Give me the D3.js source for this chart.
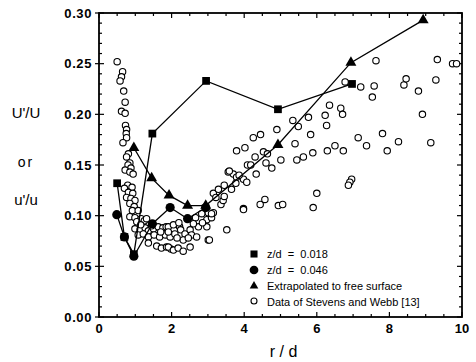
<!DOCTYPE html>
<html>
<head>
<meta charset="utf-8">
<script src="https://cdn.jsdelivr.net/npm/d3@7"></script>
<style>
  body { margin: 0; background: #fff; }
  svg { font-family: "Liberation Sans", Arial, sans-serif; }
</style>
</head>
<body>
<div id="chart"></div>
<script>
// z/d = 0.018 (filled squares)
const sqR = [0.50, 0.70, 0.96, 1.47, 2.95, 4.93, 6.97];
const sqU = [0.132, 0.079, 0.062, 0.181, 0.233, 0.205, 0.230];

// z/d = 0.046 (filled circles)
const ciR = [0.49, 0.70, 0.96, 1.47, 1.96, 2.44, 2.94];
const ciU = [0.101, 0.079, 0.060, 0.092, 0.108, 0.097, 0.108];

// extrapolated to free surface (filled triangles)
const trR = [0.96, 1.45, 1.93, 2.44, 2.94, 4.93, 6.94, 8.93];
const trU = [0.167, 0.137, 0.120, 0.110, 0.110, 0.170, 0.251, 0.293];

// Data of Stevens and Webb [13] (open circles), [r/d, u'/u]
const stevensWebb = [
  [0.50,0.252],[0.65,0.242],[0.62,0.237],[0.58,0.233],[0.68,0.223],[0.72,0.212],[0.62,0.203],[0.72,0.201],
  [0.73,0.189],[0.76,0.185],[0.75,0.181],[0.76,0.177],[0.66,0.172],[0.81,0.161],[0.76,0.158],[0.85,0.152],
  [0.80,0.150],[0.88,0.147],[0.72,0.145],[0.85,0.143],[0.94,0.141],[0.79,0.130],[0.91,0.128],[0.70,0.127],
  [0.81,0.123],[0.93,0.122],[0.76,0.118],[0.88,0.117],[0.99,0.115],[0.85,0.112],[0.97,0.109],[0.92,0.105],
  [1.08,0.105],[0.85,0.099],[0.99,0.098],[1.16,0.097],[1.04,0.094],[1.25,0.095],
  [0.99,0.087],[1.13,0.086],[1.27,0.088],[1.36,0.085],[1.50,0.087],[1.63,0.089],[1.76,0.088],[1.85,0.089],
  [1.08,0.081],[1.22,0.082],[1.36,0.079],[1.52,0.081],[1.67,0.079],[1.83,0.081],[1.96,0.079],[1.31,0.097],
  [1.36,0.073],[1.59,0.070],[1.72,0.068],[1.86,0.069],[1.98,0.067],[1.91,0.089],[2.05,0.091],[2.22,0.089],
  [1.91,0.084],[2.09,0.082],[2.25,0.086],[2.37,0.082],[2.51,0.086],[2.55,0.081],[2.69,0.079],[2.74,0.089],
  [2.66,0.098],[2.97,0.096],[3.10,0.098],[3.15,0.103],[3.01,0.103],[2.97,0.089],[3.01,0.076],[3.52,0.086],
  [1.91,0.069],[2.05,0.066],[2.18,0.068],[2.32,0.065],[2.51,0.069],[2.32,0.076],[2.46,0.078],
  [1.15,0.091],[1.45,0.090],[1.70,0.084],[2.15,0.078],[2.60,0.092],[2.85,0.093],[2.83,0.102],[2.20,0.093],
  [3.15,0.122],[3.29,0.126],[3.36,0.111],[3.42,0.115],[3.45,0.119],[3.65,0.126],[3.56,0.143],[3.70,0.141],
  [3.79,0.138],[3.77,0.132],[3.79,0.164],[3.98,0.107],[3.98,0.136],[3.22,0.118],[3.10,0.102],[3.45,0.130],
  [4.02,0.167],[4.25,0.177],[4.45,0.180],[4.90,0.185],[5.34,0.194],[5.49,0.188],[5.77,0.197],[5.83,0.180],
  [5.40,0.171],[4.30,0.158],[4.53,0.163],[4.64,0.161],[4.09,0.150],[4.18,0.150],[4.60,0.152],[4.76,0.147],
  [5.01,0.155],[5.45,0.155],[5.63,0.158],[5.89,0.162],[4.33,0.141],[3.59,0.144],[3.86,0.140],[4.07,0.133],
  [6.23,0.199],[6.27,0.189],[6.35,0.209],[6.29,0.164],[6.50,0.169],[6.73,0.164],[6.66,0.206],[6.71,0.200],
  [6.78,0.232],[7.21,0.227],[7.58,0.228],[7.53,0.217],[7.63,0.253],[8.40,0.229],[8.46,0.235],[8.80,0.223],
  [8.91,0.200],[9.28,0.234],[9.32,0.254],[9.74,0.250],[9.85,0.250],[7.14,0.177],[7.37,0.169],[7.81,0.181],
  [7.94,0.164],[8.25,0.173],[9.14,0.172],[6.96,0.136],[6.91,0.133],[6.87,0.130],
  [3.98,0.106],[4.44,0.111],[4.57,0.116],[4.94,0.110],[5.06,0.111],[5.90,0.108],[6.00,0.122],[3.04,0.076]
];

const xTicks = [0, 2, 4, 6, 8, 10];
const yTicks = [0.00, 0.05, 0.10, 0.15, 0.20, 0.25, 0.30];
const legendLabels = ['z/d  =  0.018', 'z/d  =  0.046', 'Extrapolated to free surface', 'Data of Stevens and Webb [13]'];

const width = 476, height = 362;
const margin = { top: 13, right: 14, bottom: 45, left: 99 };

const svg = d3.select('#chart').append('svg')
  .attr('width', width)
  .attr('height', height);

const x = d3.scaleLinear().domain([0, 10]).range([margin.left, width - margin.right]);
const y = d3.scaleLinear().domain([0, 0.30]).range([height - margin.bottom, margin.top]);

const x0 = x(0), x1 = x(10), y0 = y(0), y1 = y(0.30);

// minor / major ticks on all four sides, pointing inward
const xMinor = d3.range(0, 10.01, 0.5);
const yMinor = d3.range(0, 0.3001, 0.01);
const ticks = svg.append('g').attr('stroke', '#000').attr('stroke-width', 1.2);

xMinor.forEach(v => {
  const len = Math.abs(v % 2) < 1e-6 ? 5 : 3;
  ticks.append('line').attr('x1', x(v)).attr('x2', x(v)).attr('y1', y0).attr('y2', y0 - len);
  ticks.append('line').attr('x1', x(v)).attr('x2', x(v)).attr('y1', y1).attr('y2', y1 + len);
});
yMinor.forEach(v => {
  const major = Math.abs(Math.round(v * 100) % 5) === 0;
  const len = major ? 5 : 3;
  ticks.append('line').attr('x1', x0 - (major ? 4 : 0)).attr('x2', x0 + len).attr('y1', y(v)).attr('y2', y(v));
  ticks.append('line').attr('x1', x1).attr('x2', x1 - len).attr('y1', y(v)).attr('y2', y(v));
});

// frame
svg.append('rect')
  .attr('x', x0).attr('y', y1)
  .attr('width', x1 - x0).attr('height', y0 - y1)
  .attr('fill', 'none').attr('stroke', '#000').attr('stroke-width', 1.8);

// tick labels
svg.append('g').selectAll('text')
  .data(xTicks).enter().append('text')
  .attr('x', d => x(d))
  .attr('y', y0 + 16)
  .attr('text-anchor', 'middle')
  .attr('font-size', 13)
  .attr('font-weight', 'bold')
  .text(d => d);

svg.append('g').selectAll('text')
  .data(yTicks).enter().append('text')
  .attr('x', x0 - 7)
  .attr('y', d => y(d))
  .attr('dy', '0.35em')
  .attr('text-anchor', 'end')
  .attr('font-size', 13)
  .attr('font-weight', 'bold')
  .attr('letter-spacing', 0.6)
  .text(d => d.toFixed(2));

// axis labels
svg.append('text').attr('x', 26).attr('y', 118).attr('text-anchor', 'middle').attr('font-size', 15).text("U'/U");
svg.append('text').attr('x', 26).attr('y', 167).attr('text-anchor', 'middle').attr('font-size', 14).attr('letter-spacing', 2).text('or');
svg.append('text').attr('x', 26).attr('y', 205).attr('text-anchor', 'middle').attr('font-size', 15).text("u'/u");
svg.append('text').attr('x', (x0 + x1) / 2 + 3).attr('y', 357).attr('text-anchor', 'middle').attr('font-size', 16).text('r / d');

// open circles
svg.append('g').selectAll('circle')
  .data(stevensWebb).enter().append('circle')
  .attr('cx', d => x(d[0]))
  .attr('cy', d => y(d[1]))
  .attr('r', 3.2)
  .attr('fill', '#fff')
  .attr('stroke', '#000')
  .attr('stroke-width', 1.1);

const line = d3.line().x(d => x(d[0])).y(d => y(d[1]));
const zip = (a, b) => a.map((v, i) => [v, b[i]]);

const sqData = zip(sqR, sqU), ciData = zip(ciR, ciU), trData = zip(trR, trU);

[sqData, ciData, trData].forEach(s => {
  svg.append('path').datum(s)
    .attr('d', line)
    .attr('fill', 'none')
    .attr('stroke', '#000')
    .attr('stroke-width', 1.3);
});

const sym = {
  square: d3.symbol().type(d3.symbolSquare).size(60),
  circle: d3.symbol().type(d3.symbolCircle).size(66),
  triangle: d3.symbol().type(d3.symbolTriangle).size(52)
};

function markers(data, gen) {
  svg.append('g').selectAll('path')
    .data(data).enter().append('path')
    .attr('transform', d => `translate(${x(d[0])},${y(d[1])})`)
    .attr('d', gen)
    .attr('fill', '#000');
}
markers(ciData, sym.circle);
markers(sqData, sym.square);
markers(trData, sym.triangle);

// legend
const lg = svg.append('g');
const lx = 254, ly = [254, 270, 286, 302];
lg.append('path').attr('transform', `translate(${lx},${ly[0]})`).attr('d', d3.symbol().type(d3.symbolSquare).size(50)).attr('fill', '#000');
lg.append('path').attr('transform', `translate(${lx},${ly[1]})`).attr('d', d3.symbol().type(d3.symbolCircle).size(60)).attr('fill', '#000');
lg.append('path').attr('transform', `translate(${lx},${ly[2]})`).attr('d', d3.symbol().type(d3.symbolTriangle).size(32)).attr('fill', '#000');
lg.append('circle').attr('cx', lx).attr('cy', ly[3] - 1).attr('r', 3).attr('fill', '#fff').attr('stroke', '#000').attr('stroke-width', 1.1);

lg.selectAll('text')
  .data(legendLabels).enter().append('text')
  .attr('x', lx + 13)
  .attr('y', (d, i) => ly[i])
  .attr('dy', '0.35em')
  .attr('font-size', 11)
  .style('white-space', 'pre')
  .text(d => d);
</script>
</body>
</html>
